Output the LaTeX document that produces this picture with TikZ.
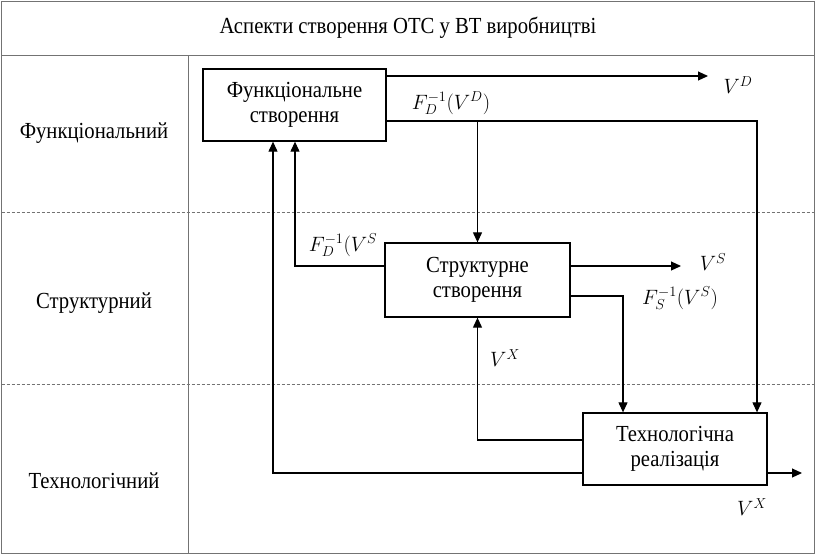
\documentclass[tikz,border=0pt]{standalone}
\usepackage{fontspec}
\setmainfont{Liberation Serif}
\usetikzlibrary{arrows.meta}
% narrow serif lettering used for all captions
\newcommand{\narrow}[1]{\scalebox{0.9}[1]{#1}}
\begin{document}
\begin{tikzpicture}[x=1pt,y=-1pt,
  frame/.style={draw=black!55, line width=0.9pt},
  sep/.style={draw=black!55, line width=0.8pt, dash pattern=on 3pt off 2pt},
  block/.style={draw, line width=1.3pt, fill=white, minimum width=184pt, minimum height=72pt,
    align=center, font=\fontsize{23}{25}\selectfont, inner sep=0pt},
  aspect/.style={font=\fontsize{23}{25}\selectfont, anchor=center},
  lbl/.style={font=\fontsize{21}{24}\selectfont, inner sep=0pt},
  link/.style={draw, line width=1.1pt},
  arr/.style={link, -{Triangle[length=10pt,width=9pt]}}]
\useasboundingbox (0,0) rectangle (816,555);

% table frame
\draw[frame] (1.5,1.5) rectangle (814,553);
\draw[frame] (1.5,55) -- (814,55);
\draw[frame] (188,55) -- (188,553);
\draw[sep] (1.5,212) -- (814,212);
\draw[sep] (1.5,384) -- (814,384);

\node[aspect] (title) at (408,28) {\narrow{Аспекти створення ОТС у ВТ виробництві}};
\node[aspect] (a1) at (94,133) {\narrow{Функціональний}};
\node[aspect] (a2) at (94,303) {\narrow{Структурний}};
\node[aspect] (a3) at (94,481) {\narrow{Технологічний}};

% blocks
\node[block, minimum width=183pt] (fun) at (294.5,105) {\narrow{Функціональне}\\\narrow{створення}};
\node[block, minimum width=185pt, minimum height=74pt] (str) at (477.5,280) {\narrow{Структурне}\\\narrow{створення}};
\node[block] (tech) at (675,449) {\narrow{Технологічна}\\\narrow{реалізація}};

% turning points and free ends
\coordinate (vd) at (708,76);
\coordinate (k1) at (757,121);
\coordinate (k2) at (295,266);
\coordinate (k3) at (273,473);
\coordinate (vs) at (681,266);
\coordinate (k4) at (623,296);
\coordinate (k5) at (476,440);
\coordinate (vx) at (802,473);

% connectors
\draw[arr] (fun.east |- vd) -- (vd);
\draw[arr] (fun.east |- k1) -- (k1) -- (k1 |- tech.north);
\draw[arr] (str.north |- k1) -- (str.north);
\draw[arr] (str.west |- k2) -- (k2) -- (k2 |- fun.south);
\draw[arr] (tech.west |- k3) -- (k3) -- (k3 |- fun.south);
\draw[arr] (str.east |- vs) -- (vs);
\draw[arr] (str.east |- k4) -- (k4) -- (k4 |- tech.north);
\draw[arr] (tech.west |- k5) -- (str.south |- k5) -- (str.south);
\draw[arr] (tech.east |- vx) -- (vx);

% labels
\node[lbl] (lvd) at (738,85) {$V^{D}$};
\node[lbl] (lfd) at (451,103) {$F_{D}^{-1}(V^{D})$};
\node[lbl] (lfs) at (343,245) {$F_{D}^{-1}(V^{S}$};
\node[lbl] (lvs) at (713,262) {$V^{S}$};
\node[lbl] (lfss) at (680,298) {$F_{S}^{-1}(V^{S})$};
\node[lbl] (lvx) at (505,358) {$V^{X}$};
\node[lbl] (lvx2) at (752,507) {$V^{X}$};
\end{tikzpicture}
\end{document}
